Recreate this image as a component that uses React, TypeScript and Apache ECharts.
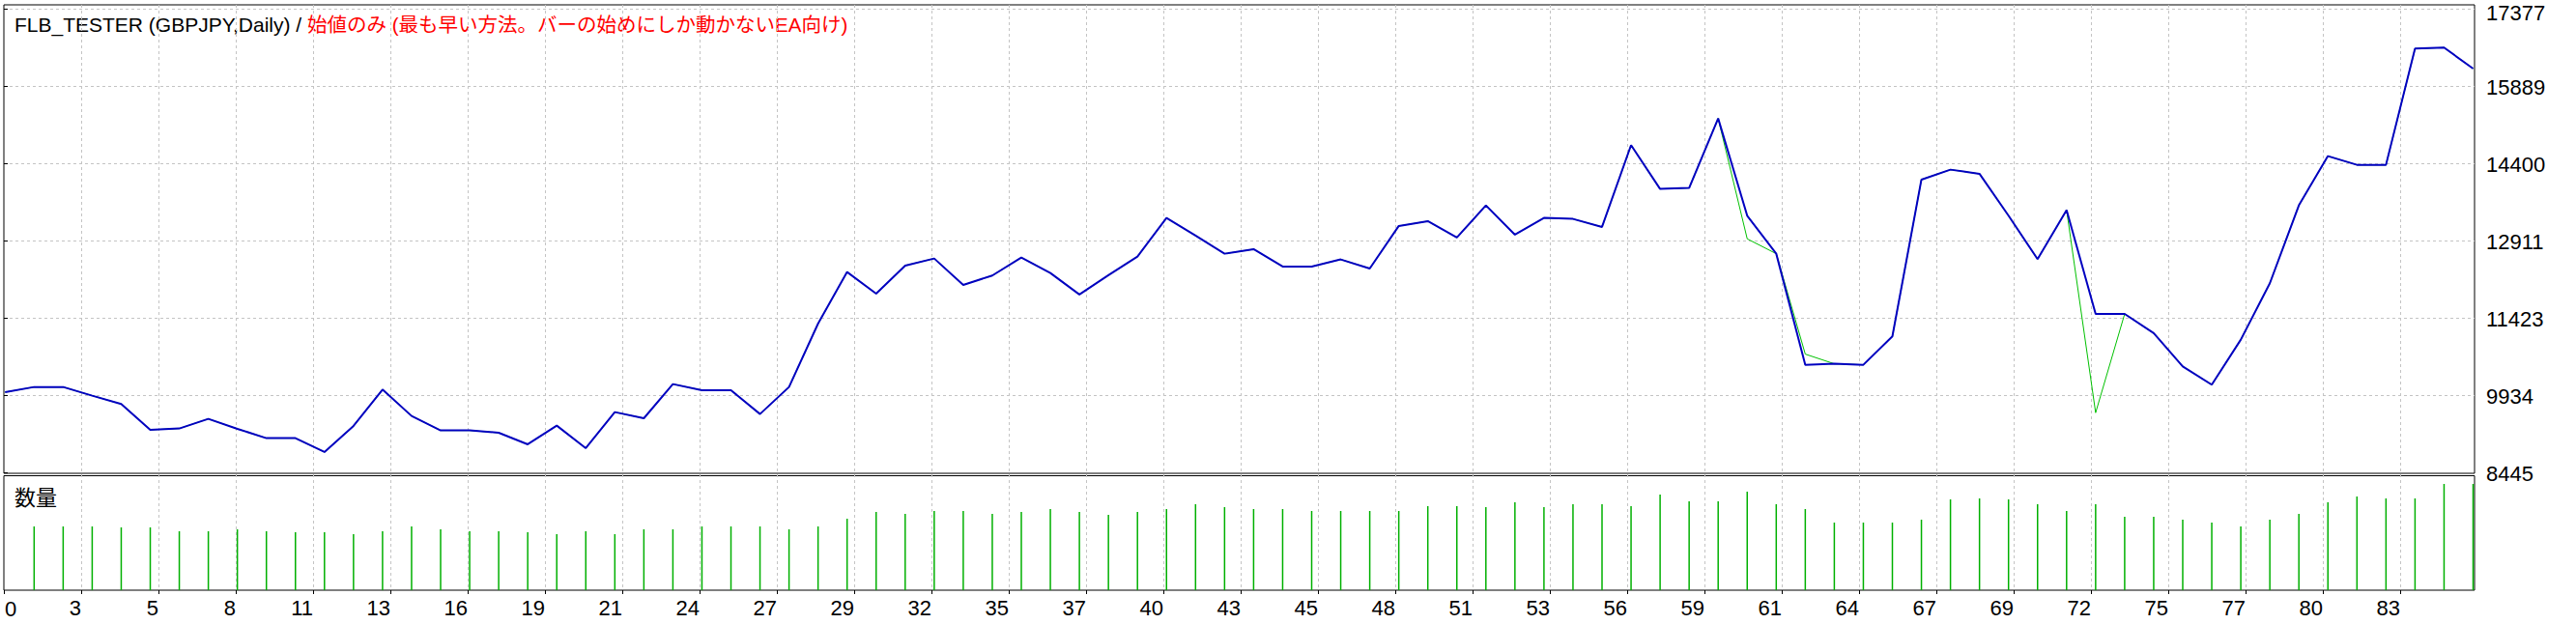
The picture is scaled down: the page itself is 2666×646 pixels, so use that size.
import React, { useEffect, useRef } from "react";
import * as echarts from "echarts";

// Balance (blue) per trade index 0..85
const balance = [
  9996, 10095, 10095, 9928, 9766, 9270, 9295, 9481, 9289, 9109,
  9109, 8842, 9345, 10045, 9537, 9258, 9258, 9214, 8991, 9351,
  8917, 9611, 9493, 10151, 10033, 10033, 9574, 10095, 11317, 12310,
  11894, 12434, 12570, 12062, 12242, 12589, 12291, 11876, 12248, 12608,
  13352, 13011, 12663, 12750, 12415, 12415, 12552, 12378, 13197, 13290,
  12974, 13594, 13029, 13352, 13333, 13178, 14754, 13910, 13930, 15269,
  13395, 12663, 10523, 10542, 10523, 11069, 14090, 14282, 14202, 13395,
  12558, 13501, 11503, 11503, 11131, 10492, 10139, 11007, 12093, 13594,
  14543, 14375, 14375, 16614, 16633, 16229,
];

// Equity (green) per trade index 0..85
const equity = [
  9996, 10095, 10095, 9928, 9766, 9270, 9295, 9481, 9289, 9109,
  9109, 8842, 9345, 10045, 9537, 9258, 9258, 9214, 8991, 9351,
  8917, 9611, 9493, 10151, 10033, 10033, 9574, 10095, 11317, 12310,
  11894, 12434, 12570, 12062, 12242, 12589, 12291, 11876, 12248, 12608,
  13352, 13011, 12663, 12750, 12415, 12415, 12552, 12378, 13197, 13290,
  12974, 13594, 13029, 13352, 13333, 13178, 14754, 13910, 13930, 15269,
  12949, 12663, 10728, 10542, 10523, 11069, 14090, 14282, 14202, 13395,
  12558, 13501, 9599, 11503, 11131, 10492, 10139, 11007, 12093, 13594,
  14543, 14375, 14375, 16614, 16633, 16229,
];

// Volume (lots) per trade index 0..85
const volume = [
  null,
  0.66, 0.66, 0.66, 0.65, 0.65, 0.61, 0.61, 0.63, 0.61, 0.60,
  0.60, 0.58, 0.61, 0.66, 0.63, 0.61, 0.61, 0.60, 0.58, 0.61,
  0.58, 0.63, 0.63, 0.66, 0.66, 0.66, 0.63, 0.66, 0.74,
  0.81, 0.79, 0.82, 0.82, 0.79, 0.81, 0.84, 0.81, 0.78, 0.81,
  0.84, 0.89, 0.86, 0.84, 0.84, 0.82, 0.82, 0.82, 0.82, 0.87,
  0.87, 0.86, 0.91, 0.86, 0.89, 0.89, 0.87, 0.99, 0.92, 0.92,
  1.02, 0.89, 0.84, 0.70, 0.70, 0.70, 0.73, 0.94, 0.95, 0.94,
  0.89, 0.82, 0.89, 0.76, 0.76, 0.73, 0.70, 0.66, 0.73, 0.79,
  0.91, 0.97, 0.95, 0.95, 1.10, 1.10,
];

const yTickLabels = ["8445", "9934", "11423", "12911", "14400", "15889", "17377"];
const xTickLabels = [
  "0", "3", "5", "8", "11", "13", "16", "19", "21", "24", "27", "29",
  "32", "35", "37", "40", "43", "45", "48", "51", "53", "56", "59",
  "61", "64", "67", "69", "72", "75", "77", "80", "83",
];
const titleMain = "FLB_TESTER (GBPJPY,Daily) / ";
const titleMode = "始値のみ (最も早い方法。バーの始めにしか動かないEA向け)";
const volumeLabel = "数量";

const FONT = "'Liberation Sans', 'Noto Sans CJK JP', sans-serif";
const GRIDLINE = { color: "#c4c4c4", type: [3, 3] as any, width: 1 };

export default function App() {
  const ref = useRef<HTMLDivElement>(null);

  useEffect(() => {
    document.body.style.margin = "0";
    if (!ref.current) return;
    const chart = echarts.init(ref.current, undefined, { renderer: "svg" });

    const option: any = {
      animation: false,
      backgroundColor: "#ffffff",
      grid: [
        { left: 4, top: 5, width: 2557, height: 485, show: true, borderColor: "#000", borderWidth: 1, outerBoundsMode: "none", containLabel: false },
        { left: 4, top: 492.5, width: 2557, height: 118.5, show: true, borderColor: "#000", borderWidth: 1, outerBoundsMode: "none", containLabel: false },
        { left: 4, top: 9, width: 2557, height: 480, show: false, outerBoundsMode: "none", containLabel: false },
        { left: 4, top: 5, width: 2480, height: 606, show: false, outerBoundsMode: "none", containLabel: false },
      ],
      xAxis: [
        { gridIndex: 0, type: "value", min: -0.042, max: 85.05, show: false },
        { gridIndex: 1, type: "value", min: -0.042, max: 85.05, show: false },
        { gridIndex: 2, type: "value", min: 0, max: 1, show: false },
        {
          gridIndex: 3,
          type: "value",
          position: "bottom",
          min: 0,
          max: 31,
          interval: 1,
          axisLine: { show: false },
          axisTick: { show: true, length: 4, lineStyle: { color: "#000", width: 1 } },
          axisLabel: {
            show: true,
            align: "right",
            margin: 7,
            fontSize: 22,
            fontFamily: FONT,
            color: "#000",
            formatter: (v: number) => (Number.isInteger(v) && v > 0 ? xTickLabels[v] ?? "" : ""),
          },
          splitLine: { show: true, showMinLine: false, lineStyle: GRIDLINE },
        },
      ],
      yAxis: [
        { gridIndex: 0, type: "value", min: 8432, max: 17457, show: false },
        { gridIndex: 1, type: "value", min: 0, max: 1.185, show: false },
        {
          gridIndex: 2,
          type: "value",
          position: "right",
          min: 0,
          max: 6,
          interval: 1,
          axisLine: { show: false },
          axisTick: { show: true, length: 4, lineStyle: { color: "#000", width: 1 } },
          axisLabel: {
            show: true,
            margin: 12,
            fontSize: 22,
            lineHeight: 18,
            padding: [3, 0, 0, 0],
            fontFamily: FONT,
            color: "#000",
            formatter: (v: number) => {
              if (!Number.isInteger(v)) return "";
              const s = yTickLabels[v] ?? "";
              return v === yTickLabels.length - 1 ? `{t|${s}}` : s;
            },
            rich: {
              t: { fontSize: 22, fontFamily: FONT, color: "#000", lineHeight: 18, padding: [6, 0, 0, 0] },
            },
          },
          splitLine: { show: true, showMinLine: false, lineStyle: GRIDLINE },
        },
        { gridIndex: 3, type: "value", min: 0, max: 1, show: false },
      ],
      series: [
        {
          type: "bar",
          xAxisIndex: 1,
          yAxisIndex: 1,
          barWidth: 1.5,
          silent: true,
          itemStyle: { color: "#00b000" },
          data: volume.map((v, i) => [i, v]),
        },
        {
          type: "line",
          xAxisIndex: 0,
          yAxisIndex: 0,
          showSymbol: false,
          symbol: "none",
          silent: true,
          z: 3,
          lineStyle: { color: "#00c000", width: 1 },
          data: equity.map((v, i) => [i, v]),
        },
        {
          type: "line",
          xAxisIndex: 0,
          yAxisIndex: 0,
          showSymbol: false,
          symbol: "none",
          silent: true,
          z: 4,
          lineStyle: { color: "#0000c0", width: 2 },
          data: balance.map((v, i) => [i, v]),
        },
      ],
      graphic: [
        {
          type: "text",
          x: 15,
          y: 25,
          silent: true,
          style: {
            text: `{a|${titleMain}}{b|${titleMode}}`,
            verticalAlign: "middle",
            rich: {
              a: { fontSize: 21, fontFamily: FONT, fill: "#000000" },
              b: { fontSize: 20.5, fontFamily: FONT, fill: "#ff0000" },
            },
          },
        },
        {
          type: "text",
          x: 15,
          y: 513,
          silent: true,
          style: { text: volumeLabel, fontSize: 22, fontFamily: "'Noto Sans CJK JP', sans-serif", fill: "#000", verticalAlign: "middle" },
        },
        {
          type: "text",
          x: 5,
          y: 630,
          silent: true,
          style: { text: xTickLabels[0], fontSize: 22, fontFamily: FONT, fill: "#000", verticalAlign: "middle" },
        },
      ],
    };

    chart.setOption(option);
    return () => chart.dispose();
  }, []);

  return <div ref={ref} style={{ width: 2666, height: 646 }} />;
}
